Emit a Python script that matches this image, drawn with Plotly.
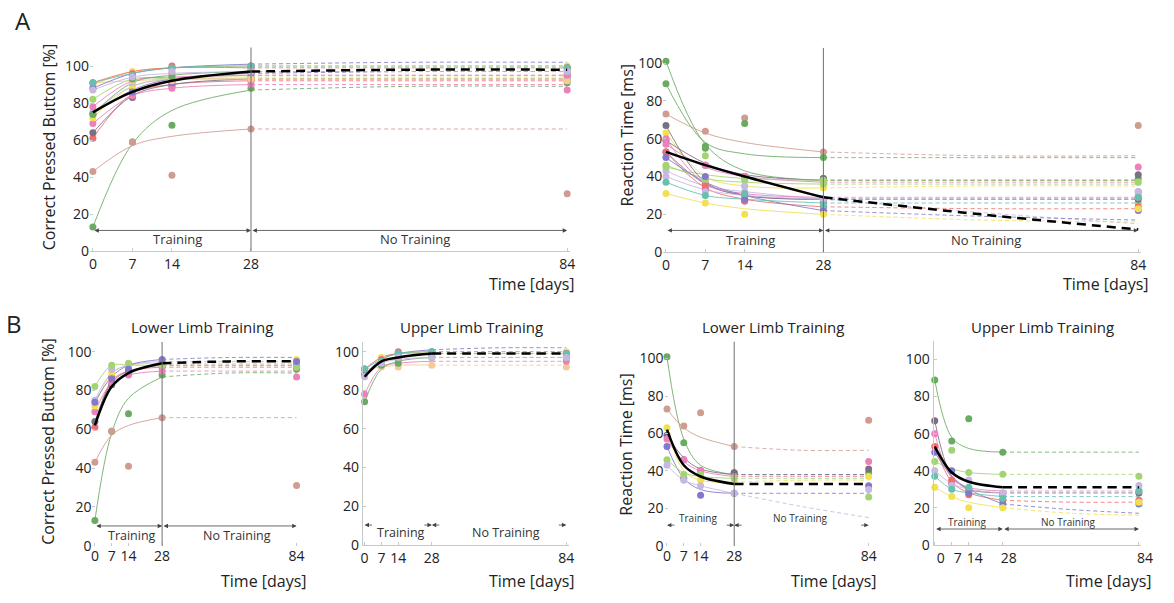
import plotly.graph_objects as go

W, H = 1174, 603

# ---------------- data ----------------
DAYS = [0, 7, 14, 28, 84]
CURVE_DAYS = [0, 7, 14, 28, 56, 84]
TICK_DAYS = [0, 7, 14, 28, 84]
TICK_LABELS = ["0", "7", "14", "28", "84"]
Y_TICKS = [0, 20, 40, 60, 80, 100]

# Lower limb training - correct pressed button [%]
LOWER_CP_POINTS = [
    [13, 59, 68, 88, 91],
    [43, 59, 41, 66, 31],
    [61, 87, 90, 92, 92],
    [64, 83, 89, 94, 93],
    [69, 84, 88, 90, 87],
    [72, 89, 92, 94, 96],
    [75, 91, 92, 95, 94],
    [82, 93, 94, 93, 92],
    [74, 86, 91, 96, 95],
]
LOWER_CP_CURVES = [
    [13, 58, 76, 87, 89, 89],
    [43, 57, 62, 66, 66, 66],
    [61, 85, 90, 92, 92, 92],
    [64, 84, 90, 93, 93, 93],
    [69, 84, 88, 90, 90, 90],
    [72, 89, 93, 94, 94, 94],
    [75, 89, 93, 95, 95, 95],
    [82, 93, 93, 93, 93, 93],
    [74, 87, 93, 96, 97, 97],
]
LOWER_CP_MEAN = [62, 82, 89, 94, 95, 95]

# Upper limb training - correct pressed button [%]
UPPER_CP_POINTS = [
    [91, 92, 92, 93, 92],
    [90, 97, 98, 100, 100],
    [88, 95, 99, 100, 99],
    [78, 95, 96, 98, 95],
    [74, 93, 94, 97, 97],
    [91, 96, 100, 99, 99],
    [91, 95, 99, 100, 99],
    [87, 94, 97, 97, 97],
]
UPPER_CP_CURVES = [
    [91, 92, 93, 93, 93, 93],
    [90, 97, 99, 100, 100, 100],
    [88, 96, 99, 101, 102, 102],
    [78, 92, 94, 95, 95, 95],
    [74, 91, 95, 97, 97, 97],
    [91, 97, 99, 99, 99, 99],
    [91, 96, 99, 100, 100, 100],
    [87, 94, 96, 97, 97, 97],
]
UPPER_CP_MEAN = [87, 95, 97, 99, 99, 99]
ALL_CP_MEAN = [75, 86, 92, 97, 98, 98]

# Lower limb training - reaction time [ms]
LOWER_RT_POINTS = [
    [101, 55, 40, 39, 39],
    [73, 64, 71, 53, 67],
    [63, 38, 35, 34, 37],
    [59, 46, 40, 39, 41],
    [57, 46, 40, 37, 45],
    [53, 36, 27, 28, 32],
    [46, 38, 38, 36, 26],
    [43, 35, 32, 28, 30],
]
LOWER_RT_CURVES = [
    [101, 57, 43, 38, 38, 38],
    [73, 63, 58, 53, 51, 51],
    [63, 40, 35, 34, 35, 35],
    [59, 47, 41, 38, 38, 38],
    [57, 45, 40, 37, 37, 37],
    [53, 36, 30, 28, 28, 28],
    [46, 39, 37, 36, 36, 36],
    [43, 35, 32, 28, 21, 15],
]
LOWER_RT_MEAN = [62, 43, 37, 33, 33, 33]

# Upper limb training - reaction time [ms]
UPPER_RT_POINTS = [
    [89, 56, 68, 50, None],
    [45, 51, 39, 38, 37],
    [67, 33, 30, 27, 28],
    [60, 34, 30, 28, 29],
    [53, 35, 27, 24, 24],
    [50, 40, 28, 22, 22],
    [40, 32, 35, 28, 32],
    [37, 30, 31, 25, 29],
    [31, 26, 20, 20, 23],
]
UPPER_RT_CURVES = [
    [89, 58, 52, 50, 50, 50],
    [45, 41, 39, 38, 38, 38],
    [67, 37, 30, 28, 28, 28],
    [60, 36, 31, 29, 29, 29],
    [53, 34, 28, 24, 23, 23],
    [50, 37, 30, 22, 19, 17],
    [40, 33, 30, 28, 28, 28],
    [37, 30, 28, 26, 26, 26],
    [31, 26, 23, 20, 17, 16],
]
UPPER_RT_MEAN = [53, 39, 34, 31, 31, 31]
ALL_RT_MEAN = [53, 46, 40, 29, 20, 12]

# ---------------- styles ----------------
GREEN, ROSE, RED, DGRAY = "#6aab62", "#d09c92", "#f26d6d", "#7b6f84"
PINK, YELLOW, LPURPLE, LGREEN = "#ec80bb", "#f1e150", "#c6b7e3", "#a3d472"
PURPLE, PEACH, TEAL = "#8378c9", "#f8c896", "#66c0b0"

LOWER_CP_COLORS = [GREEN, ROSE, RED, DGRAY, PINK, YELLOW, LPURPLE, LGREEN, PURPLE]
UPPER_CP_COLORS = [PEACH, YELLOW, PURPLE, PINK, GREEN, RED, TEAL, LPURPLE]
LOWER_RT_COLORS = [GREEN, ROSE, YELLOW, DGRAY, PINK, PURPLE, LGREEN, LPURPLE]
UPPER_RT_COLORS = [GREEN, LGREEN, DGRAY, PINK, RED, PURPLE, LPURPLE, TEAL, YELLOW]

FONT = "Open Sans"
TXT = "#222222"

# panel geometry: (day0 px, px per day, x range, y0 px, px per unit, y range)
PANELS = {
    "A1": (92, 5.714, [-0.5, 84.5], 255, 1.88, [0, 110]),
    "A2": (672, 5.69, [-0.5, 84.5], 256, 1.92, [0, 108]),
    "B1": (94, 2.43, [-1, 86], 554, 1.97, [0, 105]),
    "B2": (367, 2.43, [-0.8, 85], 553, 1.96, [0, 105]),
    "B3": (673, 2.43, [-1, 86], 554, 1.90, [0, 109]),
    "B4": (944, 2.46, [-0.5, 85], 553, 1.88, [0, 110]),
}
ORDER = ["A1", "A2", "B1", "B2", "B3", "B4"]

fig = go.Figure()
layout = dict(width=W, height=H, margin=dict(l=0, r=0, t=0, b=0),
              paper_bgcolor="white", plot_bgcolor="white", showlegend=False,
              font=dict(family=FONT, color=TXT), hovermode=False)
annotations = []
shapes = []


def axname(i):
    return ("x", "y") if i == 0 else (f"x{i+1}", f"y{i+1}")


for i, key in enumerate(ORDER):
    d0, ppd, xr, y0, ppu, yr = PANELS[key]
    L = d0 + xr[0] * ppd
    R = d0 + xr[1] * ppd
    B = y0 - yr[0] * ppu
    T = y0 - yr[1] * ppu
    xn, yn = axname(i)
    boxed = key in ("B2", "B4")
    xline = key in ("A1", "A2", "B2", "B4")
    xa = dict(domain=[L / W, R / W], range=xr, anchor=yn, showgrid=False, zeroline=False,
              tickvals=TICK_DAYS, ticktext=TICK_LABELS, ticks="inside", ticklen=3,
              tickcolor="#c8c8c8", showline=xline, linecolor="#c8c8c8", linewidth=1,
              tickfont=dict(size=14, color=TXT, family=FONT))
    if key == "B4":
        xa["ticklabelshift"] = 6
    ya = dict(domain=[(H - B) / H, (H - T) / H], range=yr, anchor=xn, showgrid=False,
              zeroline=False, tickvals=Y_TICKS, ticks="inside", ticklen=3,
              tickcolor="#c8c8c8", showline=boxed, linecolor="#c8c8c8", linewidth=1,
              tickfont=dict(size=14, color=TXT, family=FONT))
    layout["xaxis" if i == 0 else f"xaxis{i+1}"] = xa
    layout["yaxis" if i == 0 else f"yaxis{i+1}"] = ya


def add_group(i, points, curves, colors):
    xn, yn = axname(i)
    for c, col in zip(curves, colors):
        fig.add_trace(go.Scatter(x=CURVE_DAYS[:4], y=c[:4], mode="lines", xaxis=xn, yaxis=yn,
                                 line=dict(color=col, width=1, shape="spline"), opacity=0.85,
                                 hoverinfo="skip", cliponaxis=False))
        fig.add_trace(go.Scatter(x=CURVE_DAYS[3:], y=c[3:], mode="lines", xaxis=xn, yaxis=yn,
                                 line=dict(color=col, width=1, shape="spline", dash="4px,3px"),
                                 opacity=0.85, hoverinfo="skip", cliponaxis=False))
    xs, ys, cs = [], [], []
    for p, col in zip(points, colors):
        for dday, v in zip(DAYS, p):
            if v is not None:
                xs.append(dday); ys.append(v); cs.append(col)
    return xs, ys, cs


def add_panel(i, groups, mean):
    xn, yn = axname(i)
    X, Y, C = [], [], []
    for pts, crv, cols in groups:
        xs, ys, cs = add_group(i, pts, crv, cols)
        X += xs; Y += ys; C += cs
    fig.add_trace(go.Scatter(x=X, y=Y, mode="markers", xaxis=xn, yaxis=yn,
                             marker=dict(color=C, size=7, line=dict(width=0)),
                             cliponaxis=False, hoverinfo="skip"))
    fig.add_trace(go.Scatter(x=CURVE_DAYS[:4], y=mean[:4], mode="lines", xaxis=xn, yaxis=yn,
                             line=dict(color="black", width=2.5, shape="spline"),
                             cliponaxis=False, hoverinfo="skip"))
    fig.add_trace(go.Scatter(x=CURVE_DAYS[3:], y=mean[3:], mode="lines", xaxis=xn, yaxis=yn,
                             line=dict(color="black", width=2.5, shape="spline", dash="9px,6px"),
                             cliponaxis=False, hoverinfo="skip"))


add_panel(0, [(LOWER_CP_POINTS, LOWER_CP_CURVES, LOWER_CP_COLORS),
              (UPPER_CP_POINTS, UPPER_CP_CURVES, UPPER_CP_COLORS)], ALL_CP_MEAN)
add_panel(1, [(LOWER_RT_POINTS, LOWER_RT_CURVES, LOWER_RT_COLORS),
              (UPPER_RT_POINTS, UPPER_RT_CURVES, UPPER_RT_COLORS)], ALL_RT_MEAN)
add_panel(2, [(LOWER_CP_POINTS, LOWER_CP_CURVES, LOWER_CP_COLORS)], LOWER_CP_MEAN)
add_panel(3, [(UPPER_CP_POINTS, UPPER_CP_CURVES, UPPER_CP_COLORS)], UPPER_CP_MEAN)
add_panel(4, [(LOWER_RT_POINTS, LOWER_RT_CURVES, LOWER_RT_COLORS)], LOWER_RT_MEAN)
add_panel(5, [(UPPER_RT_POINTS, UPPER_RT_CURVES, UPPER_RT_COLORS)], UPPER_RT_MEAN)

# vertical line at day 28
for i in (0, 1, 2, 4):
    xn, yn = axname(i)
    shapes.append(dict(type="line", xref=xn, yref=f"{yn} domain", x0=28, x1=28, y0=0, y1=1,
                       line=dict(color="#707070", width=1)))

# arrows + phase labels: (panel, arrow y, text y, text size, full arrows?, training x, no-training x)
PHASES = [
    (0, 11.2, 6.4, 13, True, 15, 57),
    (1, 11.5, 6.5, 13, True, 15, 57),
    (2, 10.2, 5.1, 12.5, True, 15.5, 59),
    (3, 10.2, 6.1, 12.5, False, 15, 59),
    (4, 11.0, 14.7, 10, False, 13, 55.5),
    (5, 8.5, 12.2, 10, True, 13.4, 55),
]
for i, ay, ty, ts, full, tx1, tx2 in PHASES:
    xn, yn = axname(i)
    if full:
        for a, b in ((0, 28), (28, 84)):
            annotations.append(dict(xref=xn, yref=yn, axref=xn, ayref=yn, x=b, y=ay, ax=a, ay=ay,
                                    text="", showarrow=True, arrowside="end+start",
                                    arrowhead=2, startarrowhead=2, arrowsize=1.1,
                                    startarrowsize=1.1, arrowwidth=0.8, arrowcolor="#444",
                                    standoff=0, startstandoff=0))
    else:
        for tip, off in ((0, 9), (28, -9), (28, 9), (84, -9)):
            annotations.append(dict(xref=xn, yref=yn, x=tip, y=ay, ax=off, ay=0, text="",
                                    showarrow=True, arrowhead=2, arrowsize=1.1,
                                    arrowwidth=0.8, arrowcolor="#444", standoff=0))
    annotations.append(dict(xref=xn, yref=yn, x=tx1, y=ty, text="Training", showarrow=False,
                            font=dict(size=ts, color="#333", family=FONT)))
    annotations.append(dict(xref=xn, yref=yn, x=tx2, y=ty, text="No Training", showarrow=False,
                            font=dict(size=ts, color="#333", family=FONT)))


def paper_text(text, px, py, size, angle=0, xanchor="center"):
    annotations.append(dict(xref="paper", yref="paper", x=px / W, y=1 - py / H, text=text,
                            showarrow=False, textangle=angle, xanchor=xanchor, yanchor="middle",
                            font=dict(size=size, color=TXT, family=FONT)))


paper_text("A", 21, 21, 24)
paper_text("B", 12, 328, 24)
paper_text("Correct Pressed Buttom [%]", 47, 149, 16, -90)
paper_text("Reaction Time [ms]", 632, 137, 16, -90)
paper_text("Correct Pressed Buttom [%]", 47, 448, 16, -90)
paper_text("Reaction Time [ms]", 632, 451, 16, -90)
paper_text("Time [days]", 582, 288, 16, xanchor="right")
paper_text("Time [days]", 1163, 288, 16, xanchor="right")
paper_text("Time [days]", 311, 590, 16, xanchor="right")
paper_text("Time [days]", 582, 590, 16, xanchor="right")
paper_text("Time [days]", 888, 590, 16, xanchor="right")
paper_text("Time [days]", 1166, 590, 16, xanchor="right")
paper_text("Lower Limb Training", 202, 332, 15)
paper_text("Upper Limb Training", 475, 332, 15)
paper_text("Lower Limb Training", 780, 332, 15)
paper_text("Upper Limb Training", 1053, 332, 15)

layout["annotations"] = annotations
layout["shapes"] = shapes
fig.update_layout(**layout)
fig.write_html("out.html", config={"displayModeBar": False},
               post_script="document.body.style.margin='0';document.body.style.overflow='hidden';")
